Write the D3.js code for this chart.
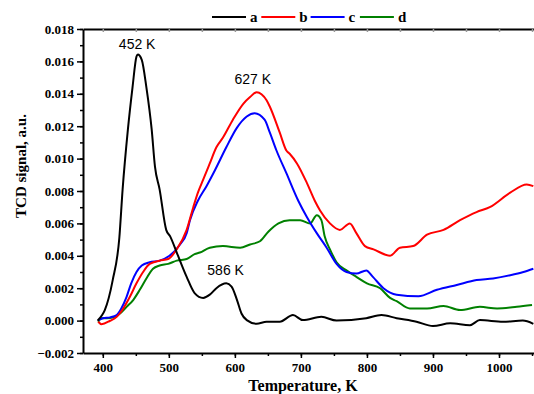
<!DOCTYPE html>
<html lang="en">
<head>
    <meta charset="UTF-8">
    <title>TPR TCD signal</title>
    <script src="https://d3js.org/d3.v7.min.js"></script>
    <style>
        body { margin: 0; background: #fff; }
        svg { display: block; }
    </style>
</head>
<body>
    <div id="chart"></div>
    <script>
        // temperature (K) and TCD signal (a.u.)
        var tempA = [392, 399, 403, 415, 425, 430, 438, 445, 451, 453, 459, 466, 474, 479, 486, 496, 502, 512, 527, 539, 552, 562, 572, 587, 595, 603, 610, 618, 633, 648, 668, 688, 703, 731, 754, 799, 822, 845, 875, 900, 926, 956, 971, 1006, 1036, 1052];
        var sigA = [0.0000, 0.00034, 0.00065, 0.0025, 0.0051, 0.0081, 0.0118, 0.0144, 0.0163, 0.01643, 0.0161, 0.0144, 0.0118, 0.0095, 0.0081, 0.0056, 0.0052, 0.0042, 0.0027, 0.0017, 0.0014, 0.0016, 0.0020, 0.0023, 0.0021, 0.0013, 0.00044, 0.00003, -0.0002, -0.00007, -0.00007, 0.00034, 0.00003, 0.00023, 0.0000, 0.00015, 0.00034, 0.00015, -0.00007, -0.00034, -0.00017, -0.00028, 0.00003, -0.00007, 0.0, -0.0002];

        var tempB = [393, 398, 411, 421, 431, 441, 451, 461, 471, 486, 499, 512, 527, 537, 544, 552, 562, 572, 582, 597, 613, 623, 633, 648, 653, 668, 678, 683, 694, 709, 721, 729, 744, 759, 774, 784, 797, 810, 835, 850, 870, 891, 916, 941, 966, 986, 1017, 1042, 1052];
        var sigB = [-0.00007, -0.00022, -0.00001, 0.00023, 0.00075, 0.00147, 0.0023, 0.0030, 0.0035, 0.0037, 0.0038, 0.0044, 0.0056, 0.0070, 0.0079, 0.0087, 0.0097, 0.0107, 0.0113, 0.0124, 0.0134, 0.0138, 0.0141, 0.0136, 0.0132, 0.0116, 0.0105, 0.0103, 0.0097, 0.0085, 0.0074, 0.0068, 0.0060, 0.0056, 0.0060, 0.0054, 0.0046, 0.0044, 0.0040, 0.0045, 0.0046, 0.0053, 0.0056, 0.0062, 0.0067, 0.0070, 0.0079, 0.0084, 0.0083];

        var tempC = [393, 400, 411, 421, 428, 436, 443, 451, 459, 471, 486, 501, 517, 527, 532, 544, 557, 570, 587, 603, 618, 630, 645, 653, 663, 678, 696, 709, 724, 739, 754, 769, 784, 799, 809, 825, 845, 878, 906, 936, 966, 991, 1017, 1037, 1052];
        var sigC = [0.00003, 0.00014, 0.0002, 0.00034, 0.00075, 0.00147, 0.0023, 0.0030, 0.0034, 0.0036, 0.0037, 0.0040, 0.0047, 0.0054, 0.0062, 0.0074, 0.0083, 0.0093, 0.0107, 0.0119, 0.0126, 0.0128, 0.0124, 0.0116, 0.0105, 0.0091, 0.0074, 0.0064, 0.0054, 0.0045, 0.0035, 0.0030, 0.0029, 0.0031, 0.0027, 0.0020, 0.0016, 0.0015, 0.0019, 0.0022, 0.0025, 0.0026, 0.0028, 0.0030, 0.0032];

        var tempD = [393, 398, 406, 416, 426, 436, 446, 456, 466, 476, 486, 499, 512, 527, 539, 547, 562, 582, 608, 623, 638, 651, 666, 683, 699, 714, 724, 731, 736, 744, 754, 769, 784, 800, 820, 835, 845, 865, 891, 916, 941, 971, 997, 1027, 1050];
        var sigD = [-0.00007, 0.00014, 0.00014, 0.0002, 0.00044, 0.00085, 0.00127, 0.0019, 0.0026, 0.0032, 0.0034, 0.0035, 0.0037, 0.0038, 0.0041, 0.0042, 0.0045, 0.0046, 0.0045, 0.0047, 0.0049, 0.0055, 0.0060, 0.0062, 0.0062, 0.0060, 0.0065, 0.0062, 0.0052, 0.0044, 0.0036, 0.0031, 0.0027, 0.0023, 0.0020, 0.0014, 0.0012, 0.00075, 0.00075, 0.0009, 0.00065, 0.00085, 0.00075, 0.00085, 0.00096];

        var seriesNames = ['a', 'b', 'c', 'd'];
        var seriesColors = ['#000000', '#ff0000', '#0000ff', '#008000'];
        var peakLabels = ['452 K', '627 K', '586 K'];
        var peakTemps = [452, 627, 586];
        var peakValues = [0.0164, 0.0141, 0.0023];

        var width = 534, height = 394;
        var margin = { top: 29, right: 0, bottom: 41, left: 83 };

        var svg = d3.select('#chart')
            .append('svg')
            .attr('width', width)
            .attr('height', height);

        var x = d3.scaleLinear()
            .domain([370, 1053])
            .range([margin.left, width]);

        var y = d3.scaleLinear()
            .domain([-0.002, 0.018])
            .range([height - margin.bottom, margin.top]);

        var serif = '"Liberation Serif", "Times New Roman", serif';
        var sans = '"Liberation Sans", Arial, sans-serif';

        // minor ticks first, then major ones with labels
        var xMinor = d3.range(400, 1051, 50);
        var yMinor = d3.range(-0.002, 0.0181, 0.001);

        svg.append('g')
            .attr('transform', 'translate(0,' + y(-0.002) + ')')
            .call(d3.axisBottom(x).tickValues(xMinor).tickSize(3).tickFormat(''))
            .call(function(g) { g.select('.domain').remove(); });

        svg.append('g')
            .attr('transform', 'translate(' + margin.left + ',0)')
            .call(d3.axisLeft(y).tickValues(yMinor).tickSize(3).tickFormat(''))
            .call(function(g) { g.select('.domain').remove(); });

        var xAxis = svg.append('g')
            .attr('transform', 'translate(0,' + y(-0.002) + ')')
            .call(d3.axisBottom(x).tickValues(d3.range(400, 1001, 100)).tickSize(5).tickSizeOuter(0).tickFormat(d3.format('d')));

        var yAxis = svg.append('g')
            .attr('transform', 'translate(' + margin.left + ',0)')
            .call(d3.axisLeft(y).tickValues(d3.range(-0.002, 0.0181, 0.002)).tickSize(6).tickSizeOuter(0).tickFormat(d3.format('.3f')));

        // top frame with small inward ticks
        svg.append('g')
            .attr('transform', 'translate(0,' + margin.top + ')')
            .call(d3.axisTop(x).tickValues(xMinor).tickSize(-3).tickSizeOuter(0).tickFormat(''))
            .call(function(g) {
                g.select('.domain').attr('stroke-width', 2);
                g.selectAll('.tick line').attr('stroke', '#999');
            });

        [xAxis, yAxis].forEach(function(g) {
            g.select('.domain').attr('stroke-width', 2);
            g.selectAll('.tick text')
                .attr('font-family', serif)
                .attr('font-weight', 'bold')
                .attr('font-size', 13)
                .attr('fill', '#000');
        });
        xAxis.selectAll('.tick text').attr('y', 10);
        svg.selectAll('.tick line').attr('stroke-width', 1.5);

        var tempLists = [tempA, tempB, tempC, tempD];
        var sigLists = [sigA, sigB, sigC, sigD];

        var line = d3.line()
            .curve(d3.curveMonotoneX)
            .x(function(d) { return x(d[0]); })
            .y(function(d) { return y(d[1]); });

        // draw d first so a ends up on top
        [3, 2, 1, 0].forEach(function(i) {
            var pts = d3.zip(tempLists[i], sigLists[i]);
            svg.append('path')
                .datum(pts)
                .attr('d', line)
                .attr('fill', 'none')
                .attr('stroke', seriesColors[i])
                .attr('stroke-width', 2)
                .attr('stroke-linejoin', 'round');
        });

        // peak labels
        var labelOffsets = [[0, -6], [0, -8], [0, -8]];
        peakLabels.forEach(function(t, i) {
            svg.append('text')
                .attr('x', x(peakTemps[i]) + labelOffsets[i][0])
                .attr('y', y(peakValues[i]) + labelOffsets[i][1])
                .attr('text-anchor', 'middle')
                .attr('font-family', sans)
                .attr('font-size', 14)
                .text(t);
        });

        // legend
        var legend = svg.append('g').attr('transform', 'translate(212,17)');
        seriesNames.forEach(function(n, i) {
            var g = legend.append('g').attr('transform', 'translate(' + (i * 49.3) + ',0)');
            g.append('line')
                .attr('x1', 0).attr('x2', 34)
                .attr('y1', 0).attr('y2', 0)
                .attr('stroke', seriesColors[i])
                .attr('stroke-width', 2);
            g.append('text')
                .attr('x', 38)
                .attr('y', 5)
                .attr('font-family', serif)
                .attr('font-weight', 'bold')
                .attr('font-size', 15)
                .text(n);
        });

        // axis titles
        svg.append('text')
            .attr('x', 303)
            .attr('y', 391)
            .attr('text-anchor', 'middle')
            .attr('font-family', serif)
            .attr('font-weight', 'bold')
            .attr('font-size', 16)
            .text('Temperature, K');

        svg.append('text')
            .attr('transform', 'translate(26,' + 166 + ') rotate(-90)')
            .attr('text-anchor', 'middle')
            .attr('font-family', serif)
            .attr('font-weight', 'bold')
            .attr('font-size', 15)
            .text('TCD signal, a.u.');
    </script>
</body>
</html>
